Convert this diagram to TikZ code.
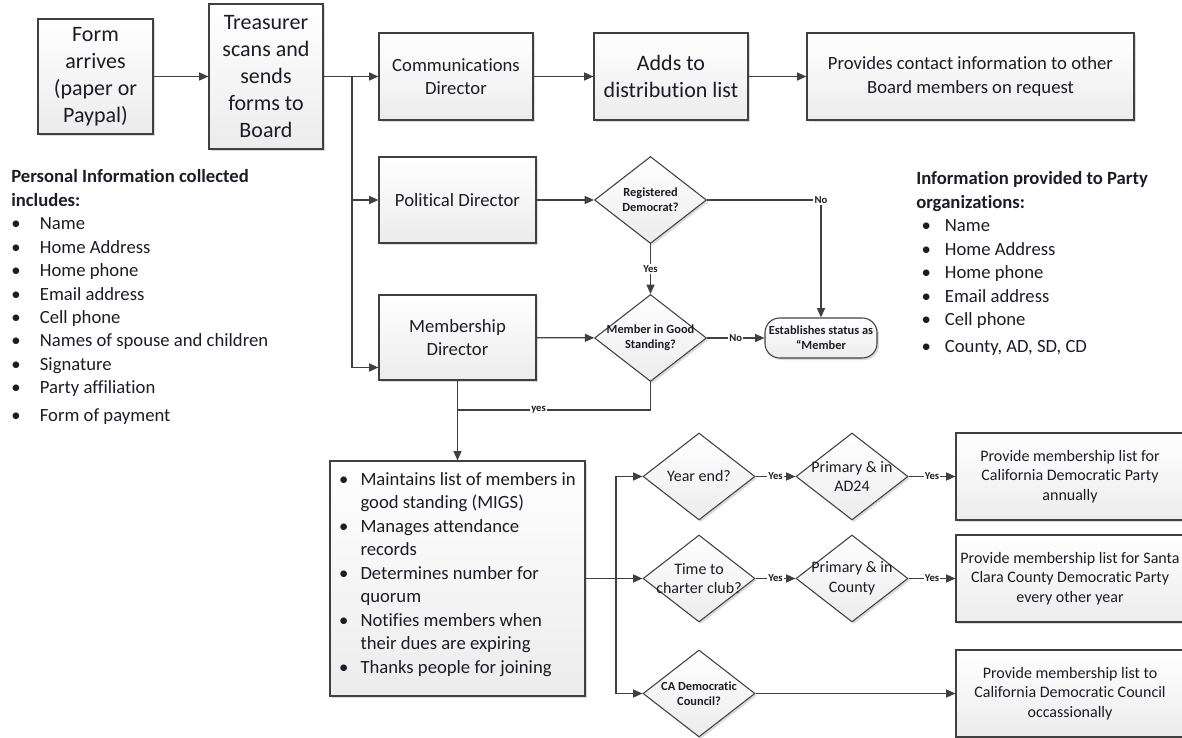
\documentclass[tikz,border=0pt]{standalone}
\usepackage{fontspec}
\setmainfont{Carlito}[Ligatures=NoCommon]
\usetikzlibrary{arrows.meta,shapes.geometric,shadows}
\definecolor{lineGray}{RGB}{64,64,64}
\definecolor{fillGray}{RGB}{236,236,236}
\definecolor{textDark}{RGB}{28,28,40}

\tikzset{
  wh/.style 2 args={minimum width=#1*0.75pt, minimum height=#2*0.75pt},
  shaded/.style={draw=lineGray, line width=0.8pt, top color=white, bottom color=fillGray,
    drop shadow={shadow xshift=1.5pt, shadow yshift=-1.5pt, fill=black!35, opacity=.4}},
  box/.style={shaded, rectangle, inner sep=2pt, align=center, text=textDark},
  dia/.style={shaded, diamond, inner sep=0pt, wh={112}{87}},
  dlab/.style={align=center, text=textDark},
  pill/.style={shaded, rectangle, rounded corners=11pt, wh={112}{40}, inner sep=1pt,
    align=center, text=textDark},
  conn/.style={draw=lineGray, line width=1pt},
  arr/.style={conn, -{Triangle[length=7pt,width=6pt]}},
  lbl/.style={fill=white, inner sep=1pt, font=\fontsize{8}{9.5}\selectfont\bfseries, text=textDark},
  fontBig/.style={font=\fontsize{16.5}{20.3}\selectfont},
  fontMid/.style={font=\fontsize{14}{17.3}\selectfont},
  fontSml/.style={font=\fontsize{12}{14.6}\selectfont},
  fontTiny/.style={font=\fontsize{9.3}{11}\selectfont\bfseries},
  fontList/.style={font=\fontsize{14}{17.6}\selectfont},
}

\begin{document}
\begin{tikzpicture}[x=0.75pt, y=-0.75pt]
  \useasboundingbox (0,0) rectangle (1182,738);

  % top row
  \node[box, fontBig, wh={115}{115}] (form) at (95.5,76.5) {Form\\arrives\\(paper or\\Paypal)};
  \node[box, fontBig, wh={114}{145}] (treas) at (266,76.5) {Treasurer\\scans and\\sends\\forms to\\Board};
  \node[box, fontMid, wh={154}{87}] (comm) at (456,76.5) {Communications\\Director};
  \node[box, fontBig, wh={154}{87}] (adds) at (671,76.5) {Adds to\\distribution list};
  \node[box, fontMid, wh={327}{87}] (contact) at (970.5,76.5) {Provides contact information to other\\Board members on request};

  % directors
  \node[box, fontMid, wh={157}{86}] (pol) at (457.5,200) {Political Director};
  \node[dia, label={[dlab,fontTiny]center:Registered\\Democrat?}] (regd) at (650.5,200) {};
  \node[box, fontMid, wh={157}{85}] (memb) at (457.5,337.5) {Membership\\Director};
  \node[dia, label={[dlab,fontTiny]center:Member in Good\\Standing?}] (good) at (650.5,338) {};
  \node[pill, fontTiny] (status) at (821,338) {Establishes status as\\“Member};

  % duties
  \node[box, fontList, wh={255}{235}] (duties) at (457.5,578.5) {%
    \begin{tabular}{@{}p{16pt}@{}l@{}}
      \textbullet & Maintains list of members in\\
                  & good standing (MIGS)\\
      \textbullet & Manages attendance\\
                  & records\\
      \textbullet & Determines number for\\
                  & quorum\\
      \textbullet & Notifies members when\\
                  & their dues are expiring\\
      \textbullet & Thanks people for joining\\[6pt]
    \end{tabular}};

  % reporting
  \node[dia, label={[dlab,fontSml]center:Year end?}] (yearend) at (699,476.5) {};
  \node[dia, label={[dlab,fontSml]center:Primary \& in\\AD24}] (primad) at (852,476.5) {};
  \node[box, fontSml, wh={228}{87}] (cdp) at (1070,476.5) {Provide membership list for\\California Democratic Party\\annually};
  \node[dia, label={[dlab,fontSml]center:Time to\\charter club?}] (charter) at (699,578.5) {};
  \node[dia, label={[dlab,fontSml]center:Primary \& in\\County}] (primco) at (852,578.5) {};
  \node[box, fontSml, wh={228}{87}] (sccdp) at (1070,578.5) {Provide membership list for Santa\\Clara County Democratic Party\\every other year};
  \node[dia, label={[dlab,fontTiny]center:CA Democratic\\Council?}] (cadc) at (699,693.5) {};
  \node[box, fontSml, wh={228}{87}] (cdc) at (1070,693.5) {Provide membership list to\\California Democratic Council\\occassionally};

  % side lists
  \node[anchor=north west, inner sep=0pt, fontList, text=textDark] (collected) at (11,166) {%
    \begin{tabular}{@{}p{21.5pt}@{}l@{}}
      \multicolumn{2}{@{}l@{}}{\bfseries Personal Information collected}\\
      \multicolumn{2}{@{}l@{}}{\bfseries includes:}\\
      \textbullet & Name\\
      \textbullet & Home Address\\
      \textbullet & Home phone\\
      \textbullet & Email address\\
      \textbullet & Cell phone\\
      \textbullet & Names of spouse and children\\
      \textbullet & Signature\\
      \textbullet & Party affiliation\\[3pt]
      \textbullet & Form of payment
    \end{tabular}};
  \node[anchor=north west, inner sep=0pt, fontList, text=textDark] (provided) at (916,168) {%
    \begin{tabular}{@{}p{21.5pt}@{}l@{}}
      \multicolumn{2}{@{}l@{}}{\bfseries Information provided to Party}\\
      \multicolumn{2}{@{}l@{}}{\bfseries organizations:}\\
      \hspace{4pt}\textbullet & Name\\
      \hspace{4pt}\textbullet & Home Address\\
      \hspace{4pt}\textbullet & Home phone\\
      \hspace{4pt}\textbullet & Email address\\
      \hspace{4pt}\textbullet & Cell phone\\[3pt]
      \hspace{4pt}\textbullet & County, AD, SD, CD
    \end{tabular}};

  % connectors
  \coordinate (split) at (352,76.5);
  \coordinate (join) at (457.5,410);
  \coordinate (fork) at (616,578.5);

  \draw[arr] (form) -- (treas);
  \draw[arr] (treas) -- (comm);
  \draw[arr] (split) |- (pol);
  \draw[arr] (split) |- ([yshift=-22.5pt]memb.west);
  \draw[arr] (comm) -- (adds);
  \draw[arr] (adds) -- (contact);
  \draw[arr] (pol) -- (regd);
  \draw[arr] (regd) -| node[lbl] {No} (status);
  \draw[arr] (regd) -- node[lbl] {Yes} (good);
  \draw[arr] (memb) -- (good);
  \draw[arr] (good) -- node[lbl] {No} (status);
  \draw[arr] (memb) -- (duties);
  \draw[conn] (good) |- node[lbl, pos=0.79] {yes} (join);
  \draw[conn] (duties.east) -- (fork);
  \draw[arr] (fork) |- (yearend);
  \draw[arr] (fork) -- (charter);
  \draw[arr] (fork) |- (cadc);
  \draw[arr] (yearend) -- node[lbl] {Yes} (primad);
  \draw[arr] (primad) -- node[lbl] {Yes} (cdp);
  \draw[arr] (charter) -- node[lbl] {Yes} (primco);
  \draw[arr] (primco) -- node[lbl] {Yes} (sccdp);
  \draw[arr] (cadc) -- (cdc);
\end{tikzpicture}
\end{document}
